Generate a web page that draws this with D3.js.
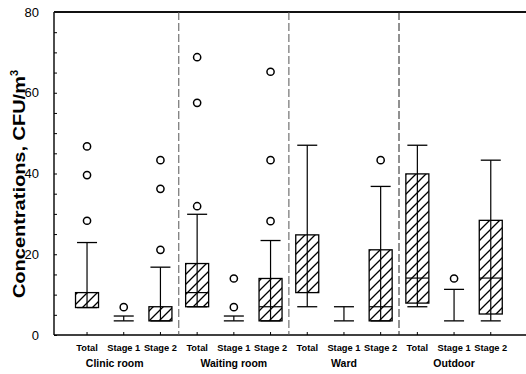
<!DOCTYPE html>
<html>
<head>
<meta charset="utf-8">
<script src="https://cdn.jsdelivr.net/npm/d3@7"></script>
<style>
  body { margin: 0; background: #fff; }
  svg { display: block; font-family: "Liberation Sans", Arial, sans-serif; }
</style>
</head>
<body>
<div id="chart"></div>
<script>
// Box plot data (CFU/m3)
var groups = ["Clinic room", "Waiting room", "Ward", "Outdoor"];
var stages = ["Total", "Stage 1", "Stage 2"];

var whiskerLow  = [6.8, 3.5, 3.5,  7.0, 3.5, 3.5,  7.0, 3.5, 3.5,  7.0, 3.5, 3.5];
var quart1      = [6.8, 3.5, 3.5,  7.0, 3.5, 3.5, 10.5, 3.5, 3.5,  7.9, 3.5, 5.2];
var medians     = [6.8, 3.5, 3.5, 10.5, 3.5, 7.0, 10.5, 3.5, 7.0, 14.1, 3.5, 14.1];
var quart3      = [10.5, 3.5, 7.0, 17.7, 3.5, 14.0, 24.8, 3.5, 21.1, 39.9, 3.5, 28.4];
var whiskerHigh = [22.9, 4.7, 16.8, 29.9, 4.7, 23.4, 47.0, 7.0, 36.8, 47.0, 11.3, 43.3];
var outliers = [
  [28.3, 39.6, 46.7], [6.9], [21.1, 36.2, 43.3],
  [31.9, 57.5, 68.8], [6.9, 14.0], [28.2, 43.3, 65.2],
  [], [], [43.3],
  [], [14.0], []
];
var yTicks = [0, 20, 40, 60, 80];

var width = 526, height = 374;

var svg = d3.select("#chart").append("svg")
  .attr("width", width)
  .attr("height", height);

// hatch fill for the boxes
svg.append("defs").append("pattern")
  .attr("id", "hatch")
  .attr("patternUnits", "userSpaceOnUse")
  .attr("width", 10).attr("height", 10)
  .append("path")
  .attr("d", "M0,10L10,0M-5,5L5,-5M5,15L15,5")
  .attr("stroke", "#000")
  .attr("stroke-width", 1.3);

var x = d3.scaleLinear().domain([-0.9, 11.96]).range([54, 526]);
var y = d3.scaleLinear().domain([0, 80]).range([335, 12]);

var boxW = 23, capW = 20;

var data = d3.range(12).map(function(i) {
  return {
    i: i, lo: whiskerLow[i], q1: quart1[i], med: medians[i],
    q3: quart3[i], hi: whiskerHigh[i], out: outliers[i]
  };
});

// y axis, minor ticks every 5
var yAxis = d3.axisRight(y)
  .tickValues(d3.range(0, 81, 5))
  .tickSize(3)
  .tickFormat("");
svg.append("g")
  .attr("transform", "translate(54,0)")
  .call(yAxis)
  .call(function(g) {
    g.select(".domain").remove();
    g.selectAll("line").attr("stroke-width", 1);
  });

svg.append("line")
  .attr("x1", 54).attr("x2", 54)
  .attr("y1", y(80)).attr("y2", y(0))
  .attr("stroke", "#000").attr("stroke-width", 1.4);

svg.selectAll(".ylab")
  .data(yTicks)
  .enter().append("text")
  .attr("x", 39)
  .attr("y", function(d) { return y(d); })
  .attr("dy", "0.36em")
  .attr("text-anchor", "end")
  .attr("font-size", 13)
  .text(function(d) { return d; });

// top and bottom frame lines
svg.append("line")
  .attr("x1", 54).attr("x2", 526)
  .attr("y1", y(80)).attr("y2", y(80))
  .attr("stroke", "#111").attr("stroke-width", 1.8);
svg.append("line")
  .attr("x1", 54).attr("x2", 526)
  .attr("y1", y(0)).attr("y2", y(0))
  .attr("stroke", "#000").attr("stroke-width", 1.4);

// x ticks
svg.selectAll(".xtick")
  .data(data)
  .enter().append("line")
  .attr("x1", function(d) { return x(d.i); })
  .attr("x2", function(d) { return x(d.i); })
  .attr("y1", y(0)).attr("y2", y(0) - 3)
  .attr("stroke", "#000");

// group separators
svg.selectAll(".sep")
  .data([1, 2, 3])
  .enter().append("line")
  .attr("x1", function(d) { return x(d * 3 - 0.5); })
  .attr("x2", function(d) { return x(d * 3 - 0.5); })
  .attr("y1", y(80)).attr("y2", y(0))
  .attr("stroke", function(d) { return d === 3 ? "#222" : "#555"; })
  .attr("stroke-width", 1)
  .attr("stroke-dasharray", "8,3");

// boxes
var box = svg.selectAll(".box")
  .data(data)
  .enter().append("g")
  .attr("class", "box");

box.append("line")
  .attr("x1", function(d) { return x(d.i); })
  .attr("x2", function(d) { return x(d.i); })
  .attr("y1", function(d) { return y(d.hi); })
  .attr("y2", function(d) { return y(d.lo); })
  .attr("stroke", "#000").attr("stroke-width", 1.2);

box.selectAll(".cap")
  .data(function(d) { return [{i: d.i, v: d.hi}, {i: d.i, v: d.lo}]; })
  .enter().append("line")
  .attr("x1", function(d) { return x(d.i) - capW / 2; })
  .attr("x2", function(d) { return x(d.i) + capW / 2; })
  .attr("y1", function(d) { return y(d.v); })
  .attr("y2", function(d) { return y(d.v); })
  .attr("stroke", "#000").attr("stroke-width", 1.3);

box.filter(function(d) { return d.q3 > d.q1; })
  .append("rect")
  .attr("x", function(d) { return x(d.i) - boxW / 2; })
  .attr("width", boxW)
  .attr("y", function(d) { return y(d.q3); })
  .attr("height", function(d) { return y(d.q1) - y(d.q3); })
  .attr("fill", "url(#hatch)")
  .attr("stroke", "#000").attr("stroke-width", 1.3);

box.filter(function(d) { return d.med > d.q1 && d.med < d.q3; })
  .append("line")
  .attr("x1", function(d) { return x(d.i) - boxW / 2; })
  .attr("x2", function(d) { return x(d.i) + boxW / 2; })
  .attr("y1", function(d) { return y(d.med); })
  .attr("y2", function(d) { return y(d.med); })
  .attr("stroke", "#000").attr("stroke-width", 1.2);

box.selectAll(".out")
  .data(function(d) { return d.out.map(function(v) { return {i: d.i, v: v}; }); })
  .enter().append("circle")
  .attr("cx", function(d) { return x(d.i); })
  .attr("cy", function(d) { return y(d.v); })
  .attr("r", 3.6)
  .attr("fill", "none")
  .attr("stroke", "#000").attr("stroke-width", 1.5);

// category labels
svg.selectAll(".stage")
  .data(data)
  .enter().append("text")
  .attr("x", function(d) { return x(d.i); })
  .attr("y", 351)
  .attr("text-anchor", "middle")
  .attr("font-size", 9.3)
  .attr("font-weight", "bold")
  .text(function(d) { return stages[d.i % 3]; });

svg.selectAll(".group")
  .data(groups)
  .enter().append("text")
  .attr("x", function(d, i) { return x(i * 3 + 1) - (i === 0 ? 9 : 0); })
  .attr("y", 367)
  .attr("text-anchor", "middle")
  .attr("font-size", 10.5)
  .attr("font-weight", "bold")
  .text(function(d) { return d; });

// y title
var title = svg.append("text")
  .attr("transform", "translate(25,184) rotate(-90)")
  .attr("text-anchor", "middle")
  .attr("font-size", 17)
  .attr("font-weight", "bold");
title.append("tspan")
  .attr("textLength", 222)
  .attr("lengthAdjust", "spacingAndGlyphs")
  .text("Concentrations, CFU/m");
title.append("tspan").attr("font-size", 11).attr("dy", "-0.6em").text("3");
</script>
</body>
</html>
